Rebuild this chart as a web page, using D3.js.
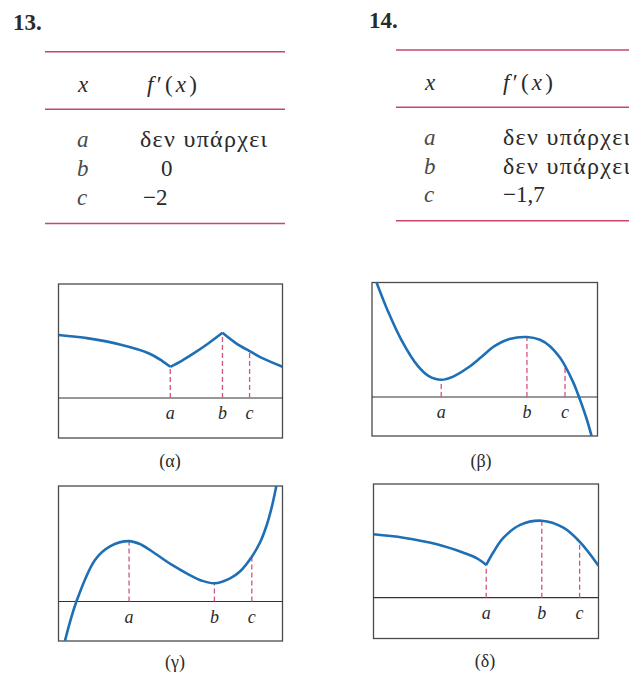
<!DOCTYPE html>
<html>
<head>
<meta charset="utf-8">
<script src="https://cdn.jsdelivr.net/npm/d3@7"></script>
<style>
  html, body { margin: 0; padding: 0; background: #fff; }
  svg { display: block; }
</style>
</head>
<body>
<svg id="fig" width="629" height="674"></svg>
<script>
// ---- Table entries for exercises 13 and 14 ----
const exerciseNumbers = ['13.', '14.'];
const tableXs = ['a', 'b', 'c'];
const derivative13 = ['δεν υπάρχει', '0', '−2'];
const derivative14 = ['δεν υπάρχει', 'δεν υπάρχει', '−1,7'];

// ---- Graph samples: x runs 0..10 across a frame, y is height above the x-axis ----
// Each graph is a list of smooth pieces; a new piece starts at a corner.
const curveAlpha = [
  [[0, 1.575], [1.34, 1.49], [2.83, 1.325], [4.02, 1.12], [4.62, 0.93], [4.99, 0.78]],
  [[4.99, 0.78], [5.5, 0.93], [6.1, 1.14], [6.7, 1.37], [7.32, 1.63]],
  [[7.32, 1.63], [7.9, 1.38], [8.5, 1.18], [9.2, 0.97], [10, 0.78]]
];
const curveBeta = [
  [[0.19, 2.88], [0.71, 2.14], [1.3, 1.43], [2.04, 0.77], [2.5, 0.53], [3.07, 0.43],
   [3.6, 0.51], [4.25, 0.73], [4.85, 1.0], [5.43, 1.27], [6.1, 1.45], [6.87, 1.5],
   [7.45, 1.43], [7.89, 1.27], [8.34, 0.98], [8.56, 0.78], [8.93, 0.36], [9.18, 0],
   [9.52, -0.55], [9.74, -0.98]]
];
const curveGamma = [
  [[0.29, -0.98], [0.8, 0], [1.63, 1.04], [2.3, 1.38], [3.15, 1.51], [3.7, 1.42],
   [4.31, 1.2], [5.05, 0.92], [5.8, 0.68], [6.4, 0.52], [6.96, 0.455], [7.66, 0.58],
   [8.1, 0.75], [8.63, 1.12], [9.0, 1.48], [9.29, 1.9], [9.52, 2.36], [9.71, 2.85],
   [9.8, 3.1]]
];
const curveDelta = [
  [[0, 1.585], [1.33, 1.5], [2.82, 1.335], [4.0, 1.125], [4.6, 0.985], [5.01, 0.82]],
  [[5.01, 0.82], [5.34, 1.15], [5.78, 1.5], [6.52, 1.82], [7.48, 1.925], [8.44, 1.75],
   [9.16, 1.4], [10, 0.8]]
];

// x-positions of the marked points a, b, c in each graph
const marksAlpha = [4.99, 7.32, 8.53];
const marksBeta  = [3.07, 6.87, 8.56];
const marksGamma = [3.15, 6.96, 8.63];
const marksDelta = [5.01, 7.48, 9.16];
const pointNames = ['a', 'b', 'c'];
const panelCaptions = ['(α)', '(β)', '(γ)', '(δ)'];

// ---- Drawing ----
const svg = d3.select('#fig');
const ink = '#2a2a2a';
const ruleColor = '#c4496b';
const curveColor = '#1f6fb4';
const dashColor = '#d0567e';
const serif = '"Liberation Serif", "DejaVu Serif", serif';
const tableSize = 23;

function drawTable(t) {
  const g = svg.append('g').attr('font-family', serif).attr('fill', ink);
  g.append('text').attr('x', t.numX).attr('y', t.numY)
    .attr('font-size', 23).attr('font-weight', 'bold').text(t.number);
  t.rules.forEach(ry => {
    g.append('line').attr('x1', t.ruleX1).attr('x2', t.ruleX2)
      .attr('y1', ry).attr('y2', ry)
      .attr('stroke', ruleColor).attr('stroke-width', 1.5);
  });
  // header row
  g.append('text').attr('x', t.colX).attr('y', t.headY)
    .attr('font-size', tableSize).attr('font-style', 'italic').text('x');
  const h = g.append('text').attr('x', t.colF).attr('y', t.headY)
    .attr('font-size', tableSize)
    .attr('textLength', 50).attr('lengthAdjust', 'spacing');
  h.append('tspan').attr('font-style', 'italic').text('f');
  h.append('tspan').text('′(');
  h.append('tspan').attr('font-style', 'italic').text('x');
  h.append('tspan').text(')');
  // body rows
  tableXs.forEach((name, i) => {
    g.append('text').attr('x', t.colX - 1).attr('y', t.rowY[i])
      .attr('font-size', tableSize).attr('font-style', 'italic').attr('fill', '#4a4a4a')
      .text(name);
    const v = g.append('text').attr('x', t.valX[i]).attr('y', t.rowY[i])
      .attr('font-size', tableSize).text(t.values[i]);
    if (t.values[i].length > 4) {
      v.attr('font-size', 24).attr('textLength', 127).attr('lengthAdjust', 'spacing');
    }
  });
}

drawTable({
  number: exerciseNumbers[0], numX: 13, numY: 30,
  ruleX1: 45, ruleX2: 285, rules: [51.7, 109.3, 223.5],
  colX: 78, colF: 147, headY: 91.5,
  rowY: [147, 176, 205], valX: [140, 161, 143],
  values: derivative13
});
drawTable({
  number: exerciseNumbers[1], numX: 369, numY: 28,
  ruleX1: 396, ruleX2: 629, rules: [50, 107.3, 220.7],
  colX: 425, colF: 503, headY: 90,
  rowY: [145, 173.5, 201.7], valX: [503, 503, 503],
  values: derivative14
});

const panels = [
  { box: { x: 58.5, y: 284,   w: 224,   h: 154,   axis: 398 },   curve: curveAlpha, marks: marksAlpha, capX: 170, capY: 467 },
  { box: { x: 372,  y: 282.5, w: 225.5, h: 153.5, axis: 397 },   curve: curveBeta,  marks: marksBeta,  capX: 481, capY: 467 },
  { box: { x: 58.5, y: 486,   w: 224,   h: 155,   axis: 601.5 }, curve: curveGamma, marks: marksGamma, capX: 175, capY: 668 },
  { box: { x: 373.5, y: 484,  w: 225,   h: 154.5, axis: 597.7 }, curve: curveDelta, marks: marksDelta, capX: 485, capY: 667 }
];

panels.forEach((p, pi) => {
  const b = p.box;
  const x = d3.scaleLinear().domain([0, 10]).range([b.x, b.x + b.w]);
  const y = d3.scaleLinear().domain([0, 1]).range([b.axis, b.axis - 40]);
  const g = svg.append('g');
  const clipId = 'clip' + pi;
  svg.append('defs').append('clipPath').attr('id', clipId)
    .append('rect').attr('x', b.x).attr('y', b.y).attr('width', b.w).attr('height', b.h);

  // frame and x-axis
  g.append('rect').attr('x', b.x).attr('y', b.y).attr('width', b.w).attr('height', b.h)
    .attr('fill', 'none').attr('stroke', '#4a4a4a').attr('stroke-width', 1.3);
  g.append('line').attr('x1', b.x).attr('x2', b.x + b.w)
    .attr('y1', b.axis).attr('y2', b.axis)
    .attr('stroke', '#333').attr('stroke-width', 1.2);

  const dashLayer = g.append('g');
  const line = d3.line().x(d => x(d[0])).y(d => y(d[1]))
    .curve(d3.curveCatmullRom.alpha(0.5));
  const curveG = g.append('g').attr('clip-path', `url(#${clipId})`);
  const paths = p.curve.map(seg =>
    curveG.append('path').attr('d', line(seg))
      .attr('fill', 'none').attr('stroke', curveColor)
      .attr('stroke-width', 2.6).attr('stroke-linejoin', 'miter')
      .attr('stroke-linecap', 'butt').node());

  // height of the drawn graph above a given x
  function graphYAt(px) {
    let best = null, bestD = Infinity;
    paths.forEach(node => {
      const L = node.getTotalLength();
      for (let s = 0; s <= L; s += 0.25) {
        const pt = node.getPointAtLength(s);
        const d = Math.abs(pt.x - px);
        if (d < bestD) { bestD = d; best = pt.y; }
      }
    });
    return best;
  }

  p.marks.forEach((mx, i) => {
    const px = x(mx);
    dashLayer.append('line').attr('x1', px).attr('x2', px)
      .attr('y1', b.axis).attr('y2', graphYAt(px))
      .attr('stroke', dashColor).attr('stroke-width', 1.3)
      .attr('stroke-dasharray', '5,3');
    g.append('text').attr('x', px).attr('y', b.axis + 21)
      .attr('text-anchor', 'middle').attr('font-family', serif)
      .attr('font-style', 'italic').attr('font-size', 18).attr('fill', ink)
      .text(pointNames[i]);
  });

  g.append('text').attr('x', p.capX).attr('y', p.capY)
    .attr('text-anchor', 'middle').attr('font-family', serif)
    .attr('font-size', 18).attr('fill', ink).text(panelCaptions[pi]);
});
</script>
</body>
</html>
